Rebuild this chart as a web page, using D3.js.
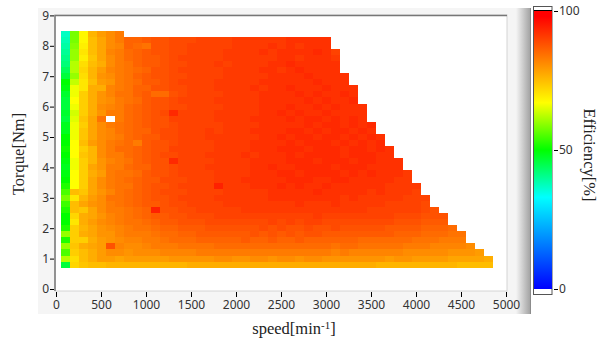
<!DOCTYPE html>
<html>
<head>
<meta charset="utf-8">
<script src="https://cdn.jsdelivr.net/npm/d3@7"></script>
<style>
body { margin: 0; background: #fff; }
svg { display: block; }
.tick text { font-family: "Noto Sans", "Open Sans", sans-serif; font-size: 12px; fill: #333; }
.title { font-family: "Liberation Serif", serif; font-size: 16.5px; fill: #222; }
</style>
</head>
<body>
<svg width="603" height="343"></svg>
<script>
// speed of each column, min-1
var speeds = d3.range(100, 4900, 100);
// torque of each row, top row first
var torques = [8.4,8.2,8.0,7.8,7.6,7.4,7.2,7.0,6.8,6.6,6.4,6.2,6.0,5.8,5.6,5.4,5.2,5.0,4.8,4.6,4.4,4.2,4.0,3.8,3.6,3.4,3.2,3.0,2.8,2.6,2.4,2.2,2.0,1.8,1.6,1.4,1.2,1.0,0.8];
var xTicks = [0,500,1000,1500,2000,2500,3000,3500,4000,4500,5000];
var yTicks = [0,1,2,3,4,5,6,7,8,9];
var barTicks = [0,50,100];
var barStops = [0,33,50,67,98,100];
var barColors = ['#0000ff','#00ffff','#00ff00','#ffff00','#ff0000','#ff0000'];

// efficiency[%], one list per torque row; a row stops where the map stops on the right
var efficiency = [
[37,58,68,76,79,81,83],
[38,58,68,75,78,81,83,86,86,87,88,88,89,89,89,90,90,90,90,91,91,91,91,91,91,92,92,92,92,92],
[39,59,69,75,78,81,82,86,85,84,88,88,89,89,90,90,90,90,90,91,91,91,91,92,91,92,91,92,92,92],
[40,60,70,75,78,82,83,85,86,87,88,88,89,89,90,90,90,90,91,91,91,91,92,91,92,92,92,92,93,92,90],
[41,60,69,74,78,81,83,85,86,87,87,88,89,90,90,90,90,90,91,91,91,91,91,91,92,92,91,92,92,92,91],
[42,62,71,75,77,81,83,84,86,87,87,88,89,89,90,90,90,91,90,91,91,91,91,92,92,93,92,92,92,92,92],
[44,62,72,76,79,82,83,84,85,86,88,88,89,90,90,90,90,90,91,91,91,91,92,92,91,92,93,92,92,92,92],
[46,60,71,76,80,81,83,84,86,87,88,88,89,89,90,90,90,90,91,91,91,91,91,92,92,92,92,93,92,92,92,92],
[50,63,70,75,79,80,83,84,85,87,87,88,89,90,90,90,90,91,91,91,91,91,92,92,92,92,92,92,93,92,92,92],
[49,66,70,77,77,82,83,84,86,86,88,88,89,89,90,90,90,91,91,91,91,92,91,92,92,93,92,92,92,93,92,92,92],
[47,66,73,77,80,82,84,84,86,87,85,85,88,89,90,90,90,90,91,91,91,91,92,92,92,92,93,92,93,92,92,93,92],
[46,67,73,77,80,81,83,84,85,87,88,88,89,90,90,90,90,91,91,91,91,91,92,92,92,92,92,93,92,93,92,92,93],
[46,66,73,77,81,82,83,85,86,87,88,88,89,89,90,90,90,90,91,91,91,91,92,92,92,93,92,92,93,92,93,92,92,92],
[47,64,73,77,80,83,83,85,86,87,88,89,93,90,90,90,90,91,91,91,91,91,92,92,93,92,93,92,92,93,92,92,92,92],
[46,65,74,78,84,null,83,85,86,87,88,88,90,90,90,90,90,91,91,91,91,92,92,92,92,93,92,93,93,92,93,92,93,92],
[48,66,73,78,81,83,84,85,86,87,88,88,89,90,90,90,90,90,91,91,91,91,92,92,92,92,92,93,92,93,93,92,93,92,93],
[48,66,74,78,81,82,84,85,86,86,88,89,89,90,90,90,91,90,91,91,91,92,92,92,92,93,93,92,93,92,93,93,92,93,92],
[50,66,74,78,81,82,83,85,86,87,87,89,89,90,90,90,91,91,91,91,91,91,92,92,93,92,93,93,92,93,93,92,93,92,93,92],
[50,67,75,79,81,83,84,85,83,87,88,88,89,90,90,90,90,91,91,91,91,92,92,92,92,93,92,93,93,93,92,93,92,93,92,93],
[51,67,73,76,81,83,85,85,86,87,88,88,90,90,90,90,90,91,91,91,91,92,92,92,93,93,93,92,93,93,93,92,93,93,92,93,92],
[50,67,74,76,81,83,83,85,86,87,88,89,89,90,90,90,91,91,91,91,92,91,92,92,92,93,92,93,93,93,93,92,93,93,93,92,92],
[49,66,73,76,80,82,83,84,86,87,88,88,93,90,90,90,90,91,91,91,91,92,92,92,92,93,93,93,92,93,93,93,92,93,93,92,92,92],
[48,66,73,78,80,83,83,85,86,86,88,88,89,90,90,90,91,91,91,91,91,92,92,93,92,92,93,93,93,93,92,93,93,93,92,92,92,92],
[49,67,73,77,79,83,84,84,85,87,88,88,89,90,90,90,90,91,91,91,91,92,92,92,93,93,92,93,93,93,93,92,93,92,93,92,92,92,91],
[50,67,73,78,81,83,84,85,86,87,87,89,89,89,90,90,90,91,91,91,92,92,92,92,92,93,93,93,92,92,93,93,92,92,92,92,92,91,91],
[52,67,73,78,81,83,84,84,86,87,88,88,89,90,90,90,90,94,91,91,91,92,92,92,93,92,93,92,92,93,92,92,92,92,92,92,91,91,91,91],
[55,75,74,78,80,82,84,85,86,87,88,89,89,89,90,90,90,90,91,91,91,91,91,92,92,92,92,92,93,92,92,92,92,92,91,92,91,91,91,90],
[58,70,76,79,81,84,84,85,86,87,88,88,89,90,90,90,90,91,91,91,91,91,91,92,92,92,92,92,92,92,92,91,92,91,91,91,91,91,90,90,90],
[54,75,78,80,81,83,84,85,86,87,87,88,89,89,90,90,90,90,91,91,91,91,91,91,91,91,92,91,91,91,92,91,91,91,91,91,90,90,90,90,89],
[52,75,74,78,81,83,83,84,85,86,94,88,88,89,89,90,90,90,90,90,91,91,91,91,91,91,91,91,91,91,91,91,91,91,90,90,90,90,90,90,89,88],
[50,72,77,78,80,82,83,84,85,86,87,87,88,88,89,89,89,90,90,90,90,90,90,90,90,90,90,90,91,90,90,90,90,90,90,90,90,89,89,89,88,88,88],
[50,70,77,79,81,82,83,84,84,85,86,87,87,88,88,88,89,89,89,89,89,89,89,90,89,90,89,90,90,89,89,89,89,89,89,89,89,88,88,88,87,87,87],
[52,73,76,78,80,81,82,83,84,84,85,86,86,87,87,87,88,88,88,88,88,88,89,88,89,88,88,89,88,88,89,88,88,88,88,88,87,87,87,87,86,86,86,85],
[60,73,77,78,80,80,82,83,83,83,84,85,85,86,86,87,87,87,87,87,87,88,87,88,87,88,87,88,88,87,87,87,87,87,87,87,87,86,86,86,85,85,85,84,84],
[52,73,73,77,79,80,81,82,82,83,83,84,85,85,85,86,86,86,86,86,87,86,86,87,86,86,87,86,86,86,86,86,86,85,85,85,85,85,85,84,84,84,83,83,83],
[60,74,77,78,79,88,82,81,81,82,83,83,83,84,84,84,84,85,85,85,85,85,85,85,85,85,85,85,85,85,84,85,85,84,84,84,84,84,83,83,83,82,82,82,82,81],
[55,73,75,77,79,81,81,80,81,81,81,82,82,82,82,83,83,83,83,83,83,83,83,83,83,83,83,83,83,83,82,83,82,82,82,82,82,82,81,81,81,81,81,80,80,80,79],
[62,71,75,77,79,79,78,79,79,79,79,79,80,80,80,80,80,81,81,80,80,81,81,80,81,81,80,81,81,80,80,80,80,80,80,80,79,80,80,79,79,79,79,78,78,78,78,77],
[46,72,74,75,75,76,76,76,76,76,76,76,76,76,77,77,77,77,77,77,77,77,77,77,77,77,77,77,77,77,77,77,77,77,77,76,76,76,76,76,76,76,76,76,75,75,75,75]
];

var svg = d3.select('svg');
var defs = svg.append('defs');

var scaleX = d3.scaleLinear().domain([0,5000]).range([56,506]);
var scaleY = d3.scaleLinear().domain([0,9]).range([289,15.4]);
var scaleBar = d3.scaleLinear().domain([0,100]).range([289,11]);
var color = d3.scaleLinear().domain(barStops).range(barColors);

// grey panel behind the plot, shaded towards its right edge
var shade = defs.append('linearGradient').attr('id','shade');
shade.append('stop').attr('offset','0%').attr('stop-color','#f5f5f5');
shade.append('stop').attr('offset','100%').attr('stop-color','#a4a4a4');
svg.append('rect').attr('x',38).attr('y',8).attr('width',492).attr('height',306).attr('fill','#f5f5f5');
svg.append('rect').attr('x',516).attr('y',8).attr('width',14).attr('height',306).attr('fill','url(#shade)');
svg.append('rect').attr('x',530).attr('y',8).attr('width',1).attr('height',306).attr('fill','#8c8c8c');

// plot area
svg.append('rect').attr('x',55).attr('y',15).attr('width',452).attr('height',276)
    .attr('fill','#fff').attr('stroke','#d4d4d4');
svg.append('path').attr('d','M55,291V15.5H507').attr('fill','none').attr('stroke','#777').attr('stroke-width',1.5);

// the map, one rect per cell
var halfX = 50, halfY = 0.1;
var cells = [];
efficiency.forEach(function(row, i){
    row.forEach(function(v, j){
        if (v !== null) cells.push({speed: speeds[j], torque: torques[i], value: v});
    });
});
svg.append('g').selectAll('rect')
    .data(cells)
    .enter()
    .append('rect')
    .attr('x', function(d){ return scaleX(d.speed - halfX); })
    .attr('y', function(d){ return scaleY(d.torque + halfY); })
    .attr('width', scaleX(halfX * 2) - scaleX(0))
    .attr('height', scaleY(0) - scaleY(halfY * 2))
    .attr('fill', function(d){ return color(d.value); })
    .attr('shape-rendering','crispEdges');

// axes
var gx = svg.append('g').attr('transform','translate(0,292)')
    .call(d3.axisBottom(scaleX).tickValues(xTicks).tickFormat(d3.format('d')).tickSize(5).tickPadding(3));
gx.select('.domain').remove();
var gy = svg.append('g').attr('transform','translate(54,0)')
    .call(d3.axisLeft(scaleY).tickValues(yTicks).tickSize(4).tickPadding(1));
gy.select('.domain').remove();

// colour bar
var barGrad = defs.append('linearGradient').attr('id','bar')
    .attr('x1',0).attr('x2',0).attr('y1',1).attr('y2',0);
barStops.forEach(function(s, i){
    barGrad.append('stop').attr('offset', s + '%').attr('stop-color', barColors[i]);
});
svg.append('rect').attr('x',533.5).attr('y',6.5).attr('width',18.5).attr('height',288)
    .attr('fill','#fff').attr('stroke','#555');
svg.append('rect').attr('x',534).attr('y',10).attr('width',18).attr('height',1.5).attr('fill','#000');
svg.append('rect').attr('x',534).attr('y',scaleBar(100)).attr('width',18)
    .attr('height',scaleBar(0)-scaleBar(100)).attr('fill','url(#bar)');
var gb = svg.append('g').attr('transform','translate(554,0)')
    .call(d3.axisRight(scaleBar).tickValues(barTicks).tickSize(4).tickPadding(1));
gb.select('.domain').remove();

// titles
svg.append('text').attr('class','title')
    .attr('transform','translate(24,154) rotate(270)')
    .attr('text-anchor','middle')
    .text('Torque[Nm]');
var xTitle = svg.append('text').attr('class','title')
    .attr('x',294).attr('y',334).attr('text-anchor','middle');
xTitle.append('tspan').text('speed[min');
xTitle.append('tspan').attr('dy',-5).attr('font-size',11).text('-1');
xTitle.append('tspan').attr('dy',5).text(']');
svg.append('text').attr('class','title')
    .attr('transform','translate(584,155) rotate(90)')
    .attr('text-anchor','middle')
    .text('Efficiency[%]');
</script>
</body>
</html>
